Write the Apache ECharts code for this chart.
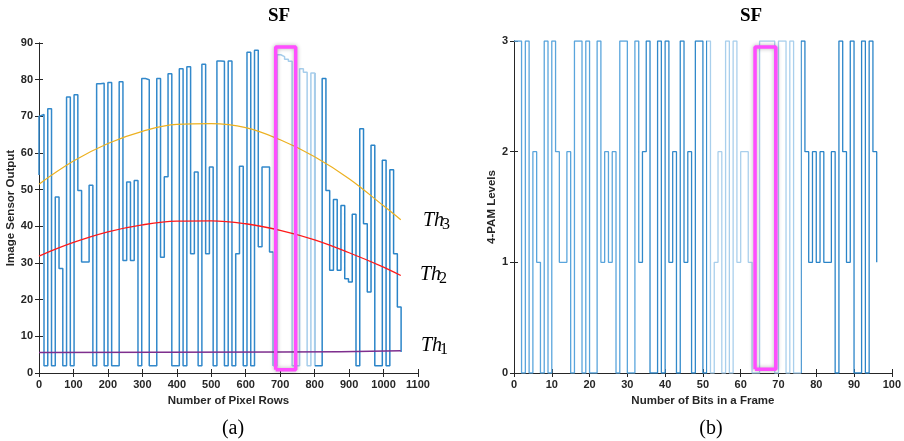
<!DOCTYPE html>
<html>
<head>
<meta charset="utf-8">
<script src="https://cdn.jsdelivr.net/npm/echarts@6/dist/echarts.min.js"></script>
<style>
  html, body { margin: 0; padding: 0; background: #fff; }
  #chart { width: 904px; height: 441px; }
</style>
</head>
<body>
<div id="chart"></div>
<script>
// image sensor output, one value per bit
var sensorStart = 54;
var sensorLevels = [
  70, 70.5, 2, 72.1, 2, 48, 28.5, 2, 75.3, 2,
  75.9, 49.8, 30.3, 30.3, 51.2, 2, 78.9, 79, 2, 79.2,
  2, 2, 79.4, 30.7, 52.1, 30.7, 52.5, 2, 80.3, 80,
  2, 2, 80.3, 31.6, 53.5, 81.6, 2, 2, 83, 2,
  83.5, 32.5, 54.8, 2, 84.2, 32.5, 56.2, 2, 85.1, 85,
  2, 85.1, 2, 32.5, 56.4, 2, 87.5, 2, 88, 34.4,
  56.2, 56.2, 33, 2, 86.8, 86.3, 85.6, 85, 2, 2,
  83, 82, 2, 81.8, 2, 2, 80.3, 49.8, 28, 47.3,
  28, 45.7, 25.7, 24.8, 43.3, 2, 66.6, 40.7, 22.1, 62.1,
  2, 2, 58, 2, 55.4, 32.5, 18
];
var sensorEnd = 5.7;
var firstRow = -7.3;
var rowsPerBit = 10.91;

// thresholds [row, value]
var th3Points = [[0, 51.5], [100, 57.8], [200, 62.6], [300, 65.9], [400, 67.8], [500, 68.0], [600, 66.9], [700, 63.6], [800, 59.0], [900, 53.0], [1000, 45.6], [1050, 41.8]];
var th2Points = [[0, 31.9], [100, 35.6], [200, 38.5], [300, 40.4], [400, 41.4], [500, 41.5], [600, 40.7], [700, 38.9], [800, 36.3], [900, 32.8], [1000, 28.9], [1050, 26.6]];
var th1Points = [[0, 5.6], [700, 5.7], [1050, 6.1]];

// 4-PAM levels per bit
var pamLevels = [
  3, 3, 0, 3, 0, 2, 1, 0, 3, 0,
  3, 2, 1, 1, 2, 0, 3, 3, 0, 3,
  0, 0, 3, 1, 2, 1, 2, 0, 3, 3,
  0, 0, 3, 1, 2, 3, 0, 0, 3, 0,
  3, 1, 2, 0, 3, 1, 2, 0, 3, 3,
  0, 3, 0, 1, 2, 0, 3, 0, 3, 1,
  2, 2, 1, 0, 0, 3, 3, 3, 3, 0,
  3, 3, 0, 3, 0, 0, 3, 2, 1, 2,
  1, 2, 1, 1, 2, 0, 3, 2, 1, 3,
  0, 0, 3, 0, 3, 2, 1
];

// SF frame boxes [x0, x1, y0, y1]
var sfBoxLeft = [687, 745, 0.9, 88.9];
var sfBoxRight = [63.8, 69.3, 0.035, 2.945];

var sigData = [[0, sensorStart]];
sensorLevels.forEach(function (v, i) {
  sigData.push([Math.max(0, firstRow + i * rowsPerBit), v]);
});
var endRow = firstRow + sensorLevels.length * rowsPerBit;
sigData.push([endRow, sensorLevels[sensorLevels.length - 1]]);
sigData.push([endRow, sensorEnd]);

var pamData = pamLevels.map(function (v, i) { return [i, v]; });

function boxData(b) {
  return [[b[0], b[2]], [b[0], b[3]], [b[1], b[3]], [b[1], b[2]], [b[0], b[2]]];
}

var axisCol = '#262626';
var lblFont = { color: axisCol, fontFamily: 'Liberation Sans', fontWeight: 'bold', fontSize: 11 };

function mainAxis(grid, pos, min, max, interval, name, gap) {
  return {
    type: 'value', gridIndex: grid, position: pos, min: min, max: max, interval: interval,
    name: name, nameLocation: 'middle', nameGap: gap,
    nameTextStyle: { color: axisCol, fontFamily: 'Liberation Sans', fontWeight: 'bold', fontSize: 11.5 },
    axisLine: { show: true, lineStyle: { color: axisCol, width: 1 } },
    axisTick: { show: true, inside: true, length: 4, lineStyle: { color: axisCol } },
    axisLabel: Object.assign({ margin: 6, formatter: function (v) { return String(v); } }, lblFont),
    splitLine: { show: false }
  };
}
function sideAxis(grid, pos, min, max, interval) {
  return {
    type: 'value', gridIndex: grid, position: pos, min: min, max: max, interval: interval,
    axisLine: { show: true, lineStyle: { color: axisCol, width: 1 } },
    axisTick: { show: true, inside: true, length: 4, lineStyle: { color: axisCol } },
    axisLabel: { show: false },
    splitLine: { show: false }
  };
}

var chart = echarts.init(document.getElementById('chart'));
var option = {
  animation: false,
  backgroundColor: '#fff',
  grid: [
    { left: 39, right: 486, top: 43, bottom: 68 },
    { left: 514, right: 6, top: 41, bottom: 68 }
  ],
  xAxis: [
    mainAxis(0, 'bottom', 0, 1100, 100, 'Number of Pixel Rows', 21),
    sideAxis(0, 'top', 0, 1100, 100),
    mainAxis(1, 'bottom', 0, 100, 10, 'Number of Bits in a Frame', 21),
    sideAxis(1, 'top', 0, 100, 10)
  ],
  yAxis: [
    mainAxis(0, 'left', 0, 90, 10, 'Image Sensor Output', 22),
    sideAxis(0, 'right', 0, 90, 10),
    mainAxis(1, 'left', 0, 3, 1, '4-PAM Levels', 14),
    sideAxis(1, 'right', 0, 3, 1)
  ],
  visualMap: [
    {
      type: 'piecewise', show: false, dimension: 0, seriesIndex: 0,
      pieces: [
        { lt: 680, color: '#3389cb' },
        { gte: 680, lt: 800, color: '#a6cdeb' },
        { gte: 800, color: '#2a84c8' }
      ]
    },
    {
      type: 'piecewise', show: false, dimension: 0, seriesIndex: 5,
      pieces: [
        { lt: 33, color: '#5aa5dc' },
        { gte: 33, lt: 51, color: '#3189ca' },
        { gte: 51, lt: 76, color: '#a9cfec' },
        { gte: 76, color: '#2a84c8' }
      ]
    }
  ],
  title: [
    { text: 'SF', left: 274, top: 2, textAlign: 'center',
      textStyle: { fontFamily: 'Liberation Serif', fontWeight: 'bold', fontSize: 19, color: '#000' } },
    { text: 'SF', left: 746, top: 2, textAlign: 'center',
      textStyle: { fontFamily: 'Liberation Serif', fontWeight: 'bold', fontSize: 19, color: '#000' } },
    { text: '(a)', left: 228, top: 414, textAlign: 'center',
      textStyle: { fontFamily: 'Liberation Serif', fontWeight: 'normal', fontSize: 20, color: '#000' } },
    { text: '(b)', left: 706, top: 414, textAlign: 'center',
      textStyle: { fontFamily: 'Liberation Serif', fontWeight: 'normal', fontSize: 20, color: '#000' } }
  ],
  graphic: [
    { type: 'text', x: 423, y: 211, style: { text: 'Th', font: 'italic 20px "Liberation Serif"', fill: '#000' } },
    { type: 'text', x: 442, y: 217, style: { text: '3', font: '16px "Liberation Serif"', fill: '#000' } },
    { type: 'text', x: 420, y: 265, style: { text: 'Th', font: 'italic 20px "Liberation Serif"', fill: '#000' } },
    { type: 'text', x: 439, y: 271, style: { text: '2', font: '16px "Liberation Serif"', fill: '#000' } },
    { type: 'text', x: 421, y: 336, style: { text: 'Th', font: 'italic 20px "Liberation Serif"', fill: '#000' } },
    { type: 'text', x: 440, y: 342, style: { text: '1', font: '16px "Liberation Serif"', fill: '#000' } }
  ],
  series: [
    {
      type: 'line', xAxisIndex: 0, yAxisIndex: 0, step: 'end', showSymbol: false,
      data: sigData, lineStyle: { width: 1.5 }
    },
    {
      type: 'line', xAxisIndex: 0, yAxisIndex: 0, smooth: 0.4, showSymbol: false,
      data: th3Points, lineStyle: { width: 1.2, color: '#EDB120' }, itemStyle: { color: '#EDB120' }
    },
    {
      type: 'line', xAxisIndex: 0, yAxisIndex: 0, smooth: 0.4, showSymbol: false,
      data: th2Points, lineStyle: { width: 1.3, color: '#FF1a1a' }, itemStyle: { color: '#FF1a1a' }
    },
    {
      type: 'line', xAxisIndex: 0, yAxisIndex: 0, smooth: true, showSymbol: false,
      data: th1Points, lineStyle: { width: 1.5, color: '#7E2F8E' }, itemStyle: { color: '#7E2F8E' }
    },
    {
      type: 'line', xAxisIndex: 0, yAxisIndex: 0, showSymbol: false, z: 5,
      data: boxData(sfBoxLeft),
      lineStyle: { width: 3.5, color: '#ff4dff', shadowBlur: 4, shadowColor: 'rgba(0,0,0,0.3)' }
    },
    {
      type: 'line', xAxisIndex: 2, yAxisIndex: 2, step: 'end', showSymbol: false,
      data: pamData, lineStyle: { width: 1.3 }
    },
    {
      type: 'line', xAxisIndex: 2, yAxisIndex: 2, showSymbol: false, z: 5,
      data: boxData(sfBoxRight),
      lineStyle: { width: 3.5, color: '#ff4dff', shadowBlur: 4, shadowColor: 'rgba(0,0,0,0.3)' }
    }
  ]
};
chart.setOption(option);
</script>
</body>
</html>
